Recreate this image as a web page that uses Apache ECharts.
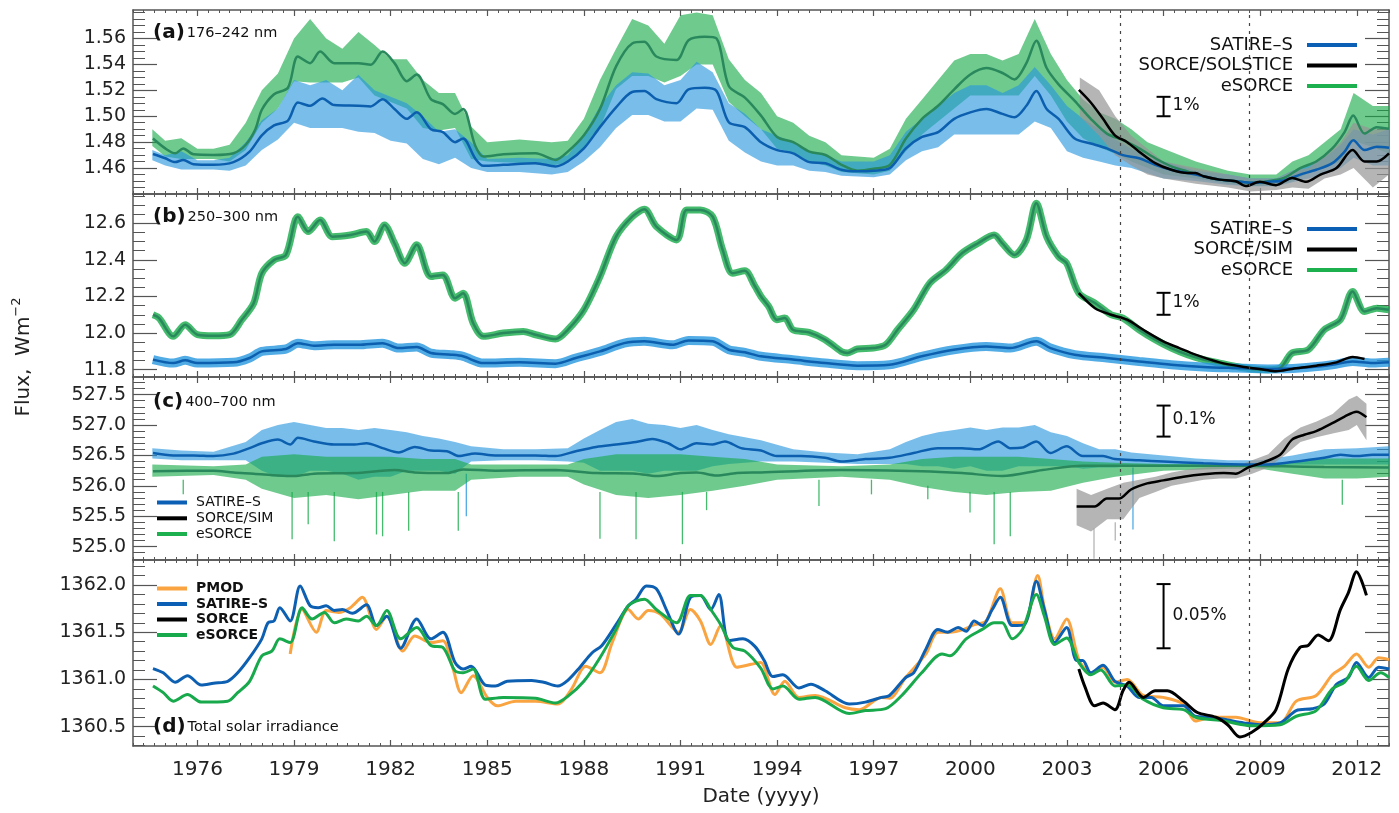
<!DOCTYPE html>
<html><head><meta charset="utf-8">
<script src="https://cdn.jsdelivr.net/npm/echarts@6/dist/echarts.min.js"></script>
<style>html,body{margin:0;padding:0;background:#fff}#c{width:1399px;height:813px}</style>
</head><body><div id="c"></div>
<script>
// ---------------- tick labels ----------------
const xTickYears = [1976,1979,1982,1985,1988,1991,1994,1997,2000,2003,2006,2009,2012];
const dashedYears = [2004.67, 2008.67];
const yTicksA = [1.46,1.48,1.50,1.52,1.54,1.56];
const yTicksB = [11.8,12.0,12.2,12.4,12.6];
const yTicksC = [525.0,525.5,526.0,526.5,527.0,527.5];
const yTicksD = [1360.5,1361.0,1361.5,1362.0];

// ---------------- panel (a) 176-242 nm ----------------
const aSatire = [[1974.62,1.4709],[1975.0,1.4676],[1975.31,1.4646],[1975.56,1.4663],[1975.88,1.463],[1976.5,1.4625],[1977.12,1.4646],[1977.62,1.4727],[1978.0,1.4853],[1978.38,1.4929],[1978.81,1.4967],[1979.12,1.5106],[1979.5,1.5081],[1979.88,1.5137],[1980.25,1.5086],[1981.0,1.5081],[1981.38,1.5076],[1981.75,1.5132],[1982.12,1.5056],[1982.5,1.498],[1982.81,1.503],[1983.25,1.490],[1983.62,1.4878],[1984.0,1.480],[1984.25,1.4828],[1984.62,1.4676],[1984.88,1.4618],[1985.5,1.4625],[1986.5,1.4638],[1987.12,1.4613],[1987.5,1.4651],[1988.0,1.4752],[1988.5,1.4916],[1989.0,1.5068],[1989.5,1.5187],[1989.88,1.5195],[1990.25,1.5132],[1990.88,1.5101],[1991.25,1.5208],[1991.75,1.522],[1992.12,1.5195],[1992.5,1.4954],[1993.0,1.4916],[1993.5,1.480],[1994.0,1.4739],[1994.5,1.4714],[1995.0,1.4646],[1995.5,1.4638],[1996.0,1.4587],[1996.5,1.4575],[1997.0,1.458],[1997.5,1.46],[1998.0,1.4752],[1998.5,1.484],[1999.0,1.4878],[1999.5,1.498],[2000.0,1.503],[2000.5,1.5056],[2001.0,1.5018],[2001.37,1.4992],[2001.74,1.5081],[2002.05,1.5195],[2002.37,1.5056],[2002.74,1.498],[2003.24,1.4828],[2003.74,1.479],[2004.24,1.4752],[2004.74,1.470],[2005.24,1.4676],[2005.74,1.4625],[2006.24,1.4587],[2006.74,1.4562],[2007.24,1.4537],[2007.74,1.4511],[2008.24,1.4499],[2008.74,1.4486],[2009.24,1.4494],[2009.74,1.4504],[2010.24,1.455],[2010.74,1.4587],[2011.24,1.4638],[2011.62,1.4727],[2011.89,1.4815],[2012.24,1.4739],[2012.62,1.4765],[2013.0,1.4757]];
const aEsorce = [[1974.62,1.4828],[1975.0,1.4752],[1975.31,1.4714],[1975.56,1.4752],[1975.88,1.4706],[1976.5,1.4701],[1977.12,1.4714],[1977.5,1.478],[1977.8,1.490],[1978.0,1.505],[1978.38,1.517],[1978.81,1.522],[1979.12,1.5461],[1979.5,1.541],[1979.81,1.5499],[1980.25,1.541],[1981.0,1.541],[1981.38,1.5397],[1981.75,1.5499],[1982.12,1.541],[1982.5,1.5271],[1982.81,1.5322],[1983.25,1.5132],[1983.62,1.5094],[1984.0,1.5018],[1984.25,1.5056],[1984.62,1.4777],[1984.88,1.4689],[1985.5,1.4706],[1986.5,1.4714],[1987.12,1.4663],[1987.5,1.4727],[1988.0,1.4853],[1988.5,1.5056],[1989.0,1.5385],[1989.5,1.5562],[1989.88,1.5575],[1990.25,1.5461],[1990.88,1.5435],[1991.25,1.5587],[1991.75,1.5613],[1992.12,1.56],[1992.5,1.5233],[1993.0,1.5144],[1993.5,1.5005],[1994.0,1.484],[1994.5,1.480],[1995.0,1.4727],[1995.5,1.4701],[1996.0,1.4625],[1996.5,1.458],[1997.0,1.4595],[1997.5,1.4625],[1998.0,1.4828],[1998.5,1.498],[1999.0,1.5081],[1999.5,1.5208],[2000.0,1.5322],[2000.5,1.5372],[2001.0,1.5334],[2001.37,1.5284],[2001.74,1.541],[2002.05,1.5582],[2002.37,1.5372],[2002.74,1.5246],[2003.24,1.5119],[2003.74,1.498],[2004.24,1.4866],[2004.74,1.4815],[2005.24,1.4752],[2005.74,1.4676],[2006.24,1.4613],[2006.74,1.4575],[2007.24,1.4537],[2007.74,1.4511],[2008.24,1.4499],[2008.74,1.4486],[2009.24,1.4499],[2009.74,1.4524],[2010.24,1.46],[2010.74,1.4651],[2011.24,1.4752],[2011.62,1.4878],[2011.89,1.5005],[2012.24,1.4866],[2012.62,1.4916],[2013.0,1.4904]];
const aSorce = [[2003.37,1.5203],[2003.74,1.5106],[2004.12,1.498],[2004.49,1.4853],[2004.87,1.480],[2005.24,1.4727],[2005.74,1.4638],[2006.24,1.4587],[2006.74,1.4562],[2006.99,1.4562],[2007.24,1.4537],[2007.74,1.4511],[2008.24,1.4499],[2008.55,1.4461],[2008.99,1.4494],[2009.49,1.4468],[2009.99,1.4524],[2010.43,1.4494],[2010.87,1.455],[2011.37,1.46],[2011.87,1.4739],[2012.24,1.4651],[2012.62,1.4651],[2013.0,1.4714]];
// daily-variability envelopes: [year, upper, lower]
const aSatireNoise = [[1974.6,1.474,1.466],[1975.0,1.470,1.462],[1975.5,1.473,1.459],[1976.0,1.466,1.459],[1976.5,1.466,1.459],[1977.0,1.468,1.458],[1977.5,1.480,1.462],[1978.0,1.497,1.474],[1978.5,1.506,1.482],[1979.0,1.528,1.495],[1979.5,1.524,1.491],[1980.0,1.528,1.491],[1980.5,1.520,1.491],[1981.0,1.532,1.488],[1981.5,1.520,1.487],[1982.0,1.515,1.481],[1982.5,1.510,1.479],[1983.0,1.500,1.467],[1983.5,1.488,1.463],[1984.0,1.490,1.468],[1984.5,1.480,1.460],[1985.0,1.467,1.457],[1986.0,1.468,1.457],[1987.0,1.467,1.455],[1987.5,1.470,1.457],[1988.0,1.486,1.465],[1988.5,1.508,1.476],[1989.0,1.524,1.491],[1989.5,1.534,1.501],[1990.0,1.533,1.501],[1990.5,1.524,1.496],[1991.0,1.528,1.496],[1991.5,1.542,1.506],[1992.0,1.534,1.505],[1992.5,1.510,1.481],[1993.0,1.502,1.472],[1993.5,1.490,1.465],[1994.0,1.485,1.462],[1994.5,1.480,1.462],[1995.0,1.472,1.458],[1995.5,1.470,1.457],[1996.0,1.465,1.454],[1997.0,1.465,1.453],[1997.5,1.470,1.455],[1998.0,1.488,1.466],[1998.5,1.498,1.473],[1999.0,1.508,1.476],[1999.5,1.518,1.486],[2000.0,1.524,1.486],[2000.5,1.524,1.486],[2001.0,1.518,1.486],[2001.5,1.524,1.486],[2002.0,1.538,1.496],[2002.5,1.524,1.491],[2003.0,1.508,1.473],[2003.5,1.498,1.468],[2004.0,1.490,1.465],[2004.5,1.482,1.462],[2005.0,1.475,1.460],[2005.5,1.468,1.456],[2006.0,1.465,1.452],[2007.0,1.458,1.450],[2008.0,1.455,1.447],[2008.7,1.452,1.446],[2009.5,1.452,1.446],[2010.0,1.458,1.449],[2010.5,1.462,1.452],[2011.0,1.468,1.455],[2011.5,1.478,1.460],[2011.9,1.490,1.468],[2012.5,1.486,1.462],[2013.0,1.490,1.462]];
const aEsorceNoise = [[1974.6,1.490,1.477],[1975.0,1.481,1.469],[1975.5,1.483,1.467],[1976.0,1.475,1.467],[1976.5,1.475,1.467],[1977.0,1.478,1.465],[1977.5,1.495,1.474],[1978.0,1.520,1.495],[1978.5,1.533,1.506],[1979.0,1.560,1.527],[1979.5,1.575,1.526],[1980.0,1.560,1.526],[1980.5,1.552,1.526],[1981.0,1.565,1.530],[1981.5,1.555,1.516],[1982.0,1.544,1.511],[1982.5,1.544,1.506],[1983.0,1.528,1.491],[1983.5,1.518,1.489],[1984.0,1.518,1.491],[1984.5,1.492,1.467],[1985.0,1.480,1.465],[1986.0,1.482,1.464],[1987.0,1.480,1.462],[1987.5,1.481,1.464],[1988.0,1.498,1.476],[1988.5,1.528,1.491],[1989.0,1.552,1.521],[1989.5,1.575,1.531],[1990.0,1.570,1.531],[1990.5,1.556,1.526],[1991.0,1.578,1.531],[1991.5,1.580,1.540],[1992.0,1.578,1.540],[1992.5,1.544,1.511],[1993.0,1.528,1.500],[1993.5,1.518,1.490],[1994.0,1.500,1.475],[1994.5,1.495,1.472],[1995.0,1.485,1.465],[1995.5,1.480,1.462],[1996.0,1.470,1.457],[1997.0,1.468,1.455],[1997.5,1.475,1.458],[1998.0,1.498,1.473],[1998.5,1.513,1.486],[1999.0,1.528,1.496],[1999.5,1.543,1.506],[2000.0,1.548,1.516],[2000.5,1.548,1.516],[2001.0,1.543,1.516],[2001.5,1.548,1.516],[2002.0,1.575,1.531],[2002.5,1.548,1.516],[2003.0,1.528,1.496],[2003.5,1.513,1.483],[2004.0,1.503,1.476],[2004.5,1.498,1.471],[2005.0,1.490,1.465],[2005.5,1.480,1.460],[2006.0,1.475,1.455],[2007.0,1.465,1.452],[2008.0,1.458,1.448],[2008.7,1.455,1.446],[2009.5,1.455,1.447],[2010.0,1.465,1.450],[2010.5,1.470,1.456],[2011.0,1.480,1.460],[2011.5,1.490,1.465],[2011.9,1.518,1.481],[2012.5,1.508,1.476],[2013.0,1.508,1.471]];
const aSorceNoise = [[2003.4,1.530,1.500],[2004.0,1.520,1.485],[2004.5,1.500,1.470],[2005.0,1.485,1.462],[2005.5,1.475,1.455],[2006.0,1.465,1.452],[2007.0,1.460,1.448],[2008.0,1.455,1.445],[2008.7,1.452,1.442],[2009.5,1.452,1.443],[2010.0,1.458,1.445],[2010.5,1.460,1.444],[2011.0,1.470,1.452],[2011.5,1.480,1.455],[2011.9,1.495,1.460],[2012.5,1.490,1.445],[2013.0,1.490,1.455]];

// ---------------- panel (b) 250-300 nm ----------------
const bSatire = [[1974.62,11.855],[1975.25,11.836],[1975.62,11.851],[1976.0,11.836],[1977.12,11.84],[1977.62,11.864],[1978.0,11.90],[1978.75,11.913],[1979.12,11.945],[1979.62,11.931],[1980.25,11.936],[1981.0,11.936],[1981.75,11.945],[1982.25,11.918],[1982.81,11.924],[1983.25,11.891],[1983.88,11.882],[1984.25,11.873],[1984.88,11.836],[1986.0,11.84],[1987.12,11.833],[1987.75,11.864],[1988.5,11.90],[1989.25,11.945],[1989.88,11.955],[1990.75,11.936],[1991.25,11.96],[1992.0,11.955],[1992.5,11.909],[1993.0,11.895],[1993.5,11.873],[1994.49,11.855],[1995.49,11.836],[1996.49,11.822],[1997.49,11.827],[1998.49,11.873],[1999.49,11.909],[2000.49,11.927],[2001.24,11.918],[2002.05,11.955],[2002.49,11.918],[2003.24,11.882],[2004.24,11.864],[2005.24,11.845],[2006.24,11.827],[2007.24,11.815],[2008.24,11.809],[2009.24,11.804],[2010.24,11.809],[2011.24,11.827],[2011.87,11.845],[2012.49,11.836],[2013.0,11.84]];
const bEsorce = [[1974.62,12.10],[1974.81,12.082],[1975.25,11.982],[1975.62,12.045],[1976.0,11.991],[1976.5,11.985],[1977.0,11.991],[1977.38,12.073],[1977.75,12.164],[1978.0,12.327],[1978.38,12.40],[1978.75,12.427],[1979.12,12.636],[1979.44,12.555],[1979.81,12.618],[1980.19,12.527],[1980.75,12.536],[1981.25,12.555],[1981.5,12.50],[1981.81,12.591],[1982.12,12.491],[1982.44,12.382],[1982.81,12.482],[1983.25,12.309],[1983.62,12.318],[1984.0,12.191],[1984.25,12.218],[1984.56,12.055],[1984.88,11.982],[1985.5,12.0],[1986.12,12.009],[1986.5,11.991],[1987.12,11.967],[1987.5,12.018],[1988.0,12.127],[1988.5,12.309],[1989.0,12.527],[1989.5,12.636],[1989.88,12.676],[1990.25,12.582],[1990.88,12.509],[1991.19,12.673],[1991.62,12.673],[1992.0,12.636],[1992.31,12.455],[1992.62,12.327],[1993.0,12.34],[1993.3,12.26],[1993.5,12.2],[1993.74,12.145],[1993.99,12.073],[1994.24,12.082],[1994.49,12.018],[1994.99,12.004],[1995.49,11.964],[1995.99,11.90],[1996.18,11.891],[1996.49,11.913],[1996.99,11.918],[1997.37,11.936],[1997.74,12.018],[1998.24,12.127],[1998.74,12.273],[1999.24,12.345],[1999.74,12.436],[2000.24,12.491],[2000.74,12.536],[2000.99,12.491],[2001.37,12.427],[2001.74,12.509],[2002.05,12.709],[2002.37,12.527],[2002.74,12.418],[2002.99,12.382],[2003.37,12.218],[2003.87,12.164],[2004.37,12.10],[2004.74,12.082],[2005.24,12.018],[2005.74,11.964],[2006.24,11.918],[2006.74,11.882],[2007.24,11.855],[2007.74,11.836],[2008.24,11.818],[2008.74,11.804],[2009.24,11.80],[2009.62,11.809],[2009.99,11.891],[2010.49,11.909],[2010.99,12.018],[2011.49,12.073],[2011.87,12.227],[2012.24,12.118],[2012.62,12.136],[2013.0,12.127]];
const bSorce = [[2003.37,12.218],[2003.87,12.136],[2004.37,12.10],[2004.87,12.073],[2005.37,12.018],[2005.99,11.955],[2006.49,11.918],[2006.99,11.882],[2007.74,11.84],[2008.49,11.815],[2009.12,11.80],[2009.49,11.791],[2009.99,11.804],[2010.74,11.822],[2011.37,11.84],[2011.87,11.869],[2012.24,11.858]];

// ---------------- panel (c) 400-700 nm ----------------
const cSatire = [[1974.62,526.54],[1975.25,526.50],[1975.88,526.50],[1976.5,526.49],[1977.12,526.53],[1977.62,526.62],[1978.0,526.70],[1978.5,526.76],[1978.88,526.68],[1979.12,526.79],[1979.62,526.73],[1980.25,526.68],[1980.88,526.68],[1981.25,526.70],[1981.75,526.62],[1982.25,526.55],[1982.75,526.64],[1983.25,526.58],[1983.75,526.57],[1984.12,526.49],[1984.62,526.53],[1985.25,526.50],[1986.5,526.50],[1987.12,526.49],[1987.75,526.57],[1988.38,526.64],[1989.0,526.68],[1989.62,526.72],[1990.12,526.77],[1990.62,526.70],[1991.0,526.60],[1991.5,526.70],[1992.0,526.68],[1992.38,526.73],[1992.88,526.62],[1993.5,526.58],[1993.99,526.49],[1994.74,526.49],[1995.49,526.46],[1995.99,526.40],[1996.74,526.44],[1997.49,526.46],[1998.24,526.54],[1998.99,526.62],[1999.74,526.62],[2000.24,526.60],[2000.87,526.73],[2001.24,526.62],[2001.62,526.63],[2002.05,526.73],[2002.49,526.54],[2002.99,526.65],[2003.49,526.49],[2004.12,526.49],[2004.49,526.44],[2005.24,526.42],[2005.99,526.40],[2007.24,526.37],[2008.49,526.35],[2009.24,526.35],[2009.99,526.39],[2010.99,526.46],[2011.49,526.51],[2011.99,526.49],[2012.49,526.51],[2013.0,526.51]];
const cEsorce = [[1974.62,526.24],[1976.5,526.25],[1977.12,526.22],[1977.75,526.20],[1978.5,526.17],[1979.0,526.16],[1979.62,526.20],[1980.88,526.21],[1982.12,526.26],[1982.75,526.22],[1983.75,526.21],[1984.25,526.27],[1985.25,526.25],[1987.12,526.26],[1988.38,526.21],[1989.62,526.20],[1990.25,526.16],[1991.0,526.21],[1991.5,526.22],[1992.12,526.17],[1992.75,526.21],[1993.5,526.22],[1995.99,526.26],[1998.49,526.24],[1999.74,526.21],[2000.99,526.16],[2002.24,526.26],[2003.49,526.33],[2004.74,526.33],[2006.0,526.33],[2008.5,526.33],[2009.74,526.32],[2010.99,526.31],[2013.0,526.30]];
const cSorce = [[2003.3,525.66],[2003.86,525.66],[2004.24,525.79],[2004.62,525.79],[2004.99,525.94],[2005.49,526.04],[2005.99,526.09],[2006.62,526.15],[2007.24,526.19],[2007.87,526.21],[2008.24,526.20],[2008.62,526.30],[2009.12,526.39],[2009.62,526.51],[2009.99,526.76],[2010.37,526.84],[2010.74,526.90],[2011.24,527.03],[2011.62,527.14],[2011.99,527.22],[2012.3,527.13]];
const cSatireNoise = [[1974.6,526.62,526.45],[1975.5,526.58,526.42],[1976.5,526.56,526.42],[1977.5,526.72,526.42],[1978.0,526.92,526.25],[1978.5,527.00,526.15],[1979.0,527.05,526.15],[1979.5,527.00,526.25],[1980.0,526.95,526.25],[1980.5,526.95,526.20],[1981.0,526.92,526.10],[1981.5,526.95,526.15],[1982.0,526.92,526.15],[1982.5,526.88,526.25],[1983.0,526.82,526.25],[1983.5,526.78,526.25],[1984.0,526.72,526.20],[1984.5,526.65,526.40],[1985.5,526.60,526.42],[1986.5,526.60,526.42],[1987.5,526.62,526.40],[1988.0,526.78,526.38],[1988.5,526.92,526.25],[1989.0,527.05,526.25],[1989.5,527.10,526.25],[1990.0,527.02,526.20],[1990.5,527.00,526.25],[1991.0,526.95,526.25],[1991.5,527.00,526.25],[1992.0,526.92,526.32],[1992.5,526.85,526.36],[1993.5,526.75,526.40],[1994.5,526.60,526.40],[1995.5,526.55,526.38],[1996.5,526.52,526.36],[1997.5,526.60,526.36],[1998.0,526.72,526.36],[1998.5,526.82,526.32],[1999.0,526.88,526.32],[1999.5,526.92,526.28],[2000.0,526.96,526.32],[2000.5,526.92,526.25],[2001.0,526.96,526.25],[2001.5,526.96,526.32],[2002.0,527.00,526.32],[2002.5,526.88,526.32],[2003.0,526.82,526.32],[2003.5,526.70,526.28],[2004.0,526.60,526.30],[2004.5,526.60,526.30],[2005.0,526.55,526.32],[2006.0,526.50,526.33],[2007.0,526.45,526.33],[2008.0,526.42,526.32],[2009.0,526.42,526.32],[2010.0,526.50,526.35],[2011.0,526.60,526.35],[2012.0,526.62,526.35],[2013.0,526.65,526.35]];
const cEsorceNoise = [[1974.6,526.35,526.15],[1976.5,526.32,526.18],[1977.5,526.35,526.10],[1978.0,526.48,525.95],[1979.0,526.52,525.80],[1980.0,526.48,525.85],[1981.0,526.48,525.78],[1982.0,526.48,525.85],[1983.0,526.44,525.92],[1984.0,526.44,525.92],[1984.5,526.35,526.10],[1986.0,526.35,526.15],[1987.5,526.35,526.15],[1988.0,526.44,526.02],[1989.0,526.52,525.85],[1990.0,526.52,525.80],[1991.0,526.52,525.85],[1992.0,526.48,525.92],[1993.0,526.44,526.00],[1994.0,526.35,526.10],[1996.0,526.32,526.15],[1997.5,526.35,526.10],[1998.5,526.44,525.98],[1999.5,526.48,525.90],[2000.5,526.48,525.85],[2001.5,526.48,525.90],[2002.5,526.44,525.92],[2003.5,526.40,526.05],[2004.5,526.38,526.15],[2006.0,526.36,526.25],[2008.0,526.35,526.28],[2009.0,526.35,526.28],[2010.0,526.40,526.20],[2011.0,526.45,526.12],[2012.0,526.45,526.12],[2013.0,526.45,526.15]];
const cSorceNoise = [[2003.3,525.95,525.35],[2003.75,525.85,525.25],[2004.25,525.95,525.45],[2004.75,526.05,525.45],[2005.25,526.10,525.80],[2005.75,526.15,525.90],[2006.25,526.22,526.00],[2006.75,526.27,526.05],[2007.25,526.30,526.10],[2007.75,526.32,526.12],[2008.25,526.32,526.12],[2008.75,526.42,526.20],[2009.25,526.52,526.30],[2009.75,526.78,526.50],[2010.25,526.96,526.72],[2010.75,527.06,526.80],[2011.25,527.18,526.86],[2011.75,527.42,526.92],[2012.0,527.48,527.00],[2012.3,527.35,526.75]];
// isolated dips: [year, from, to]
const cEsorceSpikes = [[1975.56,526.1,525.86],[1978.94,525.9,525.12],[1979.44,525.9,525.37],[1980.25,525.9,525.09],[1981.56,525.9,525.2],[1981.75,525.9,525.17],[1982.56,525.9,525.26],[1984.1,525.9,525.26],[1988.5,525.9,525.13],[1989.62,525.9,525.12],[1991.06,525.9,525.04],[1991.81,525.9,525.6],[1995.3,526.1,525.67],[1996.93,526.1,525.86],[1998.68,526.0,525.78],[1999.99,525.9,525.56],[2000.74,525.9,525.04],[2001.24,525.9,525.17],[2011.55,526.1,525.69]];
const cSatireSpikes = [[1984.35,526.2,525.5],[2005.05,526.3,525.28]];
const cSorceSpikes = [[2003.84,525.3,524.8],[2004.5,525.4,525.1]];

// ---------------- panel (d) total solar irradiance ----------------
const dSatire = [[1974.62,1361.115],[1974.94,1361.07],[1975.31,1360.97],[1975.69,1361.04],[1976.12,1360.94],[1976.5,1360.96],[1976.94,1360.98],[1977.25,1361.07],[1977.62,1361.23],[1978.0,1361.43],[1978.19,1361.60],[1978.38,1361.62],[1978.56,1361.76],[1978.88,1361.62],[1979.19,1361.99],[1979.5,1361.78],[1979.75,1361.76],[1980.0,1361.78],[1980.25,1361.73],[1980.5,1361.74],[1980.81,1361.70],[1981.25,1361.79],[1981.56,1361.57],[1981.88,1361.67],[1982.31,1361.33],[1982.81,1361.64],[1983.25,1361.43],[1983.62,1361.50],[1984.0,1361.18],[1984.25,1361.11],[1984.5,1361.14],[1984.94,1360.94],[1985.25,1360.93],[1985.62,1360.98],[1986.38,1360.99],[1986.75,1360.97],[1987.19,1360.93],[1987.5,1360.99],[1987.88,1361.13],[1988.25,1361.28],[1988.56,1361.36],[1989.0,1361.58],[1989.38,1361.78],[1989.62,1361.85],[1989.94,1361.99],[1990.25,1361.96],[1990.56,1361.74],[1990.94,1361.48],[1991.31,1361.87],[1991.62,1361.89],[1991.94,1361.74],[1992.19,1361.90],[1992.5,1361.41],[1992.94,1361.43],[1993.31,1361.35],[1993.6,1361.2],[1993.87,1361.03],[1994.18,1361.05],[1994.68,1360.91],[1995.05,1360.95],[1995.49,1360.88],[1996.24,1360.74],[1996.74,1360.76],[1997.24,1360.81],[1997.49,1360.83],[1997.99,1361.02],[1998.24,1361.07],[1998.62,1361.32],[1998.99,1361.53],[1999.3,1361.50],[1999.62,1361.55],[1999.87,1361.51],[2000.12,1361.62],[2000.37,1361.57],[2000.68,1361.74],[2000.93,1361.87],[2001.3,1361.57],[2001.68,1361.58],[2002.05,1362.04],[2002.3,1361.74],[2002.62,1361.39],[2002.99,1361.55],[2003.3,1361.20],[2003.49,1361.20],[2003.74,1361.07],[2004.12,1361.15],[2004.49,1360.98],[2004.87,1360.93],[2005.24,1360.81],[2005.62,1360.81],[2005.99,1360.72],[2006.62,1360.72],[2006.99,1360.61],[2007.49,1360.60],[2007.99,1360.57],[2008.49,1360.54],[2008.99,1360.52],[2009.62,1360.54],[2010.12,1360.67],[2010.62,1360.69],[2010.99,1360.74],[2011.37,1360.95],[2011.74,1361.02],[2011.99,1361.18],[2012.37,1361.02],[2012.68,1361.13],[2013.0,1361.11]];
const dEsorce = [[1974.62,1360.93],[1974.94,1360.86],[1975.25,1360.77],[1975.69,1360.84],[1976.12,1360.76],[1976.94,1360.77],[1977.25,1360.86],[1977.62,1360.98],[1978.0,1361.25],[1978.31,1361.30],[1978.56,1361.43],[1978.88,1361.39],[1979.25,1361.76],[1979.56,1361.64],[1979.94,1361.71],[1980.25,1361.60],[1980.62,1361.64],[1981.0,1361.62],[1981.25,1361.67],[1981.56,1361.57],[1981.88,1361.73],[1982.31,1361.43],[1982.81,1361.55],[1983.25,1361.36],[1983.62,1361.34],[1984.0,1361.09],[1984.25,1361.07],[1984.56,1361.11],[1984.94,1360.79],[1985.5,1360.81],[1986.5,1360.80],[1987.12,1360.75],[1987.5,1360.82],[1988.0,1360.98],[1988.5,1361.23],[1989.0,1361.53],[1989.38,1361.78],[1989.88,1361.85],[1990.25,1361.74],[1990.88,1361.60],[1991.31,1361.89],[1991.62,1361.89],[1991.94,1361.74],[1992.25,1361.58],[1992.62,1361.34],[1993.0,1361.30],[1993.49,1361.12],[1993.87,1360.90],[1994.18,1360.93],[1994.68,1360.79],[1995.18,1360.81],[1996.24,1360.64],[1996.74,1360.67],[1997.37,1360.69],[1997.87,1360.83],[1998.49,1361.07],[1999.12,1361.27],[1999.37,1361.25],[1999.87,1361.43],[2000.37,1361.53],[2000.74,1361.60],[2000.99,1361.60],[2001.3,1361.43],[2001.62,1361.53],[2002.05,1361.90],[2002.3,1361.67],[2002.62,1361.37],[2002.99,1361.44],[2003.37,1361.18],[2003.74,1361.05],[2004.05,1361.10],[2004.49,1360.93],[2004.87,1360.94],[2005.37,1360.79],[2005.99,1360.70],[2006.62,1360.68],[2006.99,1360.60],[2007.87,1360.56],[2008.74,1360.51],[2009.62,1360.52],[2010.12,1360.61],[2010.74,1360.67],[2011.24,1360.90],[2011.62,1360.97],[2011.99,1361.14],[2012.37,1360.99],[2012.74,1361.07],[2013.0,1361.02]];
const dPmod = [[1978.88,1361.27],[1979.25,1361.74],[1979.69,1361.50],[1980.0,1361.73],[1980.38,1361.71],[1980.75,1361.76],[1981.12,1361.87],[1981.56,1361.53],[1981.88,1361.67],[1982.38,1361.30],[1982.75,1361.46],[1983.25,1361.39],[1983.62,1361.41],[1983.94,1361.11],[1984.19,1360.86],[1984.56,1361.04],[1985.0,1360.81],[1985.31,1360.72],[1985.88,1360.77],[1986.5,1360.77],[1987.19,1360.74],[1987.62,1360.90],[1988.06,1361.14],[1988.5,1361.07],[1988.88,1361.39],[1989.38,1361.74],[1989.69,1361.64],[1990.0,1361.73],[1990.38,1361.69],[1990.94,1361.50],[1991.31,1361.74],[1991.62,1361.62],[1991.94,1361.37],[1992.25,1361.57],[1992.75,1361.13],[1993.19,1361.16],[1993.49,1361.18],[1993.93,1360.84],[1994.24,1360.98],[1994.68,1360.81],[1995.18,1360.83],[1996.12,1360.70],[1996.55,1360.68],[1997.24,1360.81],[1997.49,1360.80],[1997.99,1361.02],[1998.62,1361.27],[1998.99,1361.50],[1999.37,1361.50],[1999.8,1361.53],[2000.12,1361.58],[2000.49,1361.62],[2000.93,1361.96],[2001.3,1361.60],[2001.68,1361.60],[2002.09,1362.10],[2002.3,1361.76],[2002.62,1361.43],[2002.99,1361.64],[2003.37,1361.21],[2003.74,1361.07],[2004.12,1361.13],[2004.49,1360.97],[2004.87,1361.00],[2005.37,1360.83],[2005.99,1360.81],[2006.62,1360.74],[2006.99,1360.56],[2007.49,1360.60],[2008.24,1360.60],[2008.99,1360.54],[2009.62,1360.54],[2010.12,1360.77],[2010.74,1360.83],[2011.24,1361.05],[2011.62,1361.14],[2011.99,1361.27],[2012.37,1361.13],[2012.68,1361.23],[2013.0,1361.21]];
const dSorce = [[2003.37,1361.11],[2003.55,1360.93],[2003.86,1360.72],[2004.12,1360.75],[2004.49,1360.68],[2004.74,1360.88],[2004.93,1360.97],[2005.37,1360.81],[2005.74,1360.88],[2006.12,1360.88],[2006.62,1360.77],[2007.05,1360.65],[2007.62,1360.60],[2007.99,1360.52],[2008.37,1360.39],[2008.74,1360.44],[2009.12,1360.54],[2009.49,1360.68],[2009.87,1361.11],[2010.24,1361.34],[2010.49,1361.36],[2010.8,1361.47],[2011.12,1361.41],[2011.49,1361.74],[2011.74,1361.92],[2011.99,1362.14],[2012.3,1361.89]];

// scale bars: [year, lower, upper, label]
const scaleBars = [[2006.0,1.500,1.515,'1%'],[2006.0,12.10,12.22,'1%'],[2006.0,526.81,527.32,'0.1%'],[2006.0,1361.33,1362.01,'0.05%']];

// ---------------- layout / style ----------------
const FONT = 'DejaVu Sans';
const C = {
  satLine:'#0b5fae', satNoise:'rgba(38,150,222,0.62)',
  esoLine:'#29885c', esoNoise:'rgba(22,170,72,0.62)',
  satThick:'rgba(38,150,222,0.8)', esoThick:'rgba(22,170,72,0.8)',
  grayNoise:'rgba(150,150,150,0.7)', black:'#000',
  pmod:'#f9a441', satD:'#0d5fb2', esoD:'#17a94b',
  legBlue:'#0b5fb4', legGreen:'#1db04f', axis:'#555'
};
const panels = [
  {top:10,  height:184, min:1.44,   max:1.582,   major:yTicksA, minorStep:0.005, dec:2},
  {top:194, height:183, min:11.76,  max:12.76,   major:yTicksB, minorStep:0.05,  dec:1},
  {top:377, height:183, min:524.78, max:527.79,  major:yTicksC, minorStep:0.1,   dec:1},
  {top:560, height:186, min:1360.295,max:1362.265,major:yTicksD, minorStep:0.1,  dec:1}
];
const X_MIN = 1974, X_MAX = 2013;
const minorX = [];
for (let k = 0; k <= 117; k++) minorX.push(+(X_MIN + k/3).toFixed(4));

const grids = [], xAxes = [], yAxes = [];
panels.forEach((p, i) => {
  grids.push({left:133, right:10, top:p.top, height:p.height});
  const minorY = [];
  const s0 = Math.ceil(p.min / p.minorStep - 1e-6);
  for (let k = s0; k * p.minorStep <= p.max + 1e-9; k++) minorY.push(+(k * p.minorStep).toFixed(4));
  ['bottom','top'].forEach(pos => {
    xAxes.push({gridIndex:i, type:'value', min:X_MIN, max:X_MAX, position:pos,
      axisLine:{show:true, onZero:false, lineStyle:{color:C.axis, width:1.5}},
      axisTick:{show:true, inside:true, length:6, customValues:xTickYears, lineStyle:{color:C.axis, width:1.2}},
      axisLabel:{show:(i===3 && pos==='bottom'), customValues:xTickYears, formatter:v => String(Math.round(v)),
        fontFamily:FONT, fontSize:20, color:'#222', margin:14},
      splitLine:{show:false}});
    xAxes.push({gridIndex:i, type:'value', min:X_MIN, max:X_MAX, position:pos,
      axisLine:{show:false}, axisLabel:{show:false}, splitLine:{show:false},
      axisTick:{show:true, inside:true, length:3, customValues:minorX, lineStyle:{color:C.axis, width:1}}});
  });
  ['left','right'].forEach(pos => {
    yAxes.push({gridIndex:i, type:'value', min:p.min, max:p.max, position:pos,
      axisLine:{show:true, onZero:false, lineStyle:{color:C.axis, width:1.5}},
      axisTick:{show:true, inside:true, length:24, customValues:p.major, lineStyle:{color:C.axis, width:1.2}},
      axisLabel:{show:pos==='left', customValues:p.major, formatter:v => Number(v).toFixed(p.dec),
        fontFamily:FONT, fontSize:19, color:'#222', margin:7},
      splitLine:{show:false}});
    yAxes.push({gridIndex:i, type:'value', min:p.min, max:p.max, position:pos,
      axisLine:{show:false}, axisLabel:{show:false}, splitLine:{show:false},
      axisTick:{show:true, inside:true, length:12, customValues:minorY, lineStyle:{color:C.axis, width:1}}});
  });
});

function lineS(gi, data, color, width, extra) {
  return Object.assign({type:'line', xAxisIndex:gi*4, yAxisIndex:gi*4, data:data, showSymbol:false,
    smooth:0.3, silent:true, clip:true, lineStyle:{color:color, width:width}, z:3}, extra || {});
}
function bandS(gi, data, color) {
  return {type:'custom', xAxisIndex:gi*4, yAxisIndex:gi*4, data:data, silent:true, clip:true, z:2,
    renderItem:function(params, api){
      if (params.dataIndex !== 0) return null;
      const pts = [];
      for (let k = 0; k < data.length; k++) pts.push(api.coord([data[k][0], data[k][1]]));
      for (let k = data.length - 1; k >= 0; k--) pts.push(api.coord([data[k][0], data[k][2]]));
      return {type:'polygon', shape:{points:pts}, style:{fill:color}};
    }};
}
function spikeS(gi, data, color) {
  return {type:'custom', xAxisIndex:gi*4, yAxisIndex:gi*4, data:data, silent:true, clip:true, z:2,
    renderItem:function(params, api){
      const a = api.coord([api.value(0), api.value(1)]);
      const b = api.coord([api.value(0), api.value(2)]);
      return {type:'line', shape:{x1:a[0], y1:a[1], x2:b[0], y2:b[1]}, style:{stroke:color, lineWidth:1.3}};
    }};
}
function scaleS(gi) {
  const d = [scaleBars[gi]];
  return {type:'custom', xAxisIndex:gi*4, yAxisIndex:gi*4, data:d, silent:true, z:5,
    renderItem:function(params, api){
      const r = d[0];
      const lo = api.coord([r[0], r[1]]), hi = api.coord([r[0], r[2]]);
      return {type:'group', children:[
        {type:'line', shape:{x1:lo[0], y1:lo[1], x2:hi[0], y2:hi[1]}, style:{stroke:'#000', lineWidth:2}},
        {type:'line', shape:{x1:lo[0]-7, y1:lo[1], x2:lo[0]+7, y2:lo[1]}, style:{stroke:'#000', lineWidth:2}},
        {type:'line', shape:{x1:hi[0]-7, y1:hi[1], x2:hi[0]+7, y2:hi[1]}, style:{stroke:'#000', lineWidth:2}},
        {type:'text', x:lo[0]+9, y:(lo[1]+hi[1])/2 - 1, style:{text:r[3], font:'17px "DejaVu Sans"', fill:'#111', verticalAlign:'middle', align:'left'}}
      ]};
    }};
}
const dashMark = {silent:true, symbol:['none','none'], label:{show:false},
  lineStyle:{type:[3,5], color:'#444', width:1.2}, data:dashedYears.map(v => ({xAxis:v}))};

const series = [
  // (a)
  bandS(0, aEsorceNoise, C.esoNoise),
  bandS(0, aSatireNoise, C.satNoise),
  bandS(0, aSorceNoise, C.grayNoise),
  lineS(0, aEsorce, C.esoLine, 2.5, {markLine:dashMark}),
  lineS(0, aSatire, C.satLine, 2.5),
  lineS(0, aSorce, C.black, 2.5),
  scaleS(0),
  // (b)
  lineS(1, bEsorce, C.esoThick, 7, {z:2, markLine:dashMark}),
  lineS(1, bSatire, C.satThick, 9, {z:2}),
  lineS(1, bEsorce, C.esoLine, 2.5),
  lineS(1, bSatire, C.satLine, 2.5),
  lineS(1, bSorce, C.black, 2.5),
  scaleS(1),
  // (c)
  bandS(2, cSatireNoise, C.satNoise),
  spikeS(2, cSatireSpikes, C.satThick),
  bandS(2, cEsorceNoise, C.esoNoise),
  spikeS(2, cEsorceSpikes, C.esoThick),
  bandS(2, cSorceNoise, C.grayNoise),
  spikeS(2, cSorceSpikes, C.grayNoise),
  lineS(2, cEsorce, C.esoLine, 2.5, {markLine:dashMark}),
  lineS(2, cSatire, C.satLine, 2.5),
  lineS(2, cSorce, C.black, 2.5),
  scaleS(2),
  // (d)
  lineS(3, dPmod, C.pmod, 3, {markLine:dashMark}),
  lineS(3, dSatire, C.satD, 3),
  lineS(3, dEsorce, C.esoD, 3),
  lineS(3, dSorce, C.black, 3),
  scaleS(3)
];

// ---------------- annotations ----------------
const graphic = [];
function panelLabel(x, y, tag, sub) {
  graphic.push({type:'text', x:x, y:y, z:10, style:{text:'{t|' + tag + '}{s|' + sub + '}', verticalAlign:'middle', align:'left',
    rich:{t:{fontFamily:FONT, fontSize:20, fontWeight:'bold', fill:'#111'}, s:{fontFamily:FONT, fontSize:14.5, fill:'#111', padding:[0,0,0,2]}}}});
}
panelLabel(153, 33, '(a)', '176\u2013242 nm');
panelLabel(153, 217, '(b)', '250\u2013300 nm');
panelLabel(153, 402, '(c)', '400\u2013700 nm');
panelLabel(153, 727, '(d)', 'Total solar irradiance');

function legendRight(textX, lineX1, lineX2, ys, items, size) {
  items.forEach((it, k) => {
    graphic.push({type:'text', x:textX, y:ys[k], z:10, style:{text:it[0], font:size + 'px "DejaVu Sans"', fill:'#111', align:'right', verticalAlign:'middle'}});
    graphic.push({type:'line', z:10, shape:{x1:lineX1, y1:ys[k], x2:lineX2, y2:ys[k]}, style:{stroke:it[1], lineWidth:4}});
  });
}
function legendLeft(lineX1, lineX2, textX, ys, items, size, weight) {
  items.forEach((it, k) => {
    graphic.push({type:'line', z:10, shape:{x1:lineX1, y1:ys[k], x2:lineX2, y2:ys[k]}, style:{stroke:it[1], lineWidth:4}});
    graphic.push({type:'text', x:textX, y:ys[k], z:10, style:{text:it[0], font:(weight||'normal') + ' ' + size + 'px "DejaVu Sans"', fill:'#111', align:'left', verticalAlign:'middle'}});
  });
}
legendRight(1293, 1307, 1357, [45, 65.5, 86], [['SATIRE\u2013S', C.legBlue], ['SORCE/SOLSTICE', C.black], ['eSORCE', C.legGreen]], 18);
legendRight(1293, 1307, 1357, [229, 249.5, 270], [['SATIRE\u2013S', C.legBlue], ['SORCE/SIM', C.black], ['eSORCE', C.legGreen]], 18);
legendLeft(157, 187, 196, [502.5, 518.3, 534], [['SATIRE\u2013S', C.legBlue], ['SORCE/SIM', C.black], ['eSORCE', C.legGreen]], 14);
legendLeft(157, 187, 196, [588.5, 604, 619.5, 635], [['PMOD', C.pmod], ['SATIRE\u2013S', C.legBlue], ['SORCE', C.black], ['eSORCE', C.esoD]], 14, 'bold');

graphic.push({type:'text', x:24, y:357, rotation:Math.PI/2, z:10,
  style:{text:'{a|Flux,  Wm}{b|\u22122}', align:'center', verticalAlign:'middle',
    rich:{a:{fontFamily:FONT, fontSize:20, lineHeight:28, fill:'#222'}, b:{fontFamily:FONT, fontSize:13, lineHeight:13, verticalAlign:'top', fill:'#222'}}}});
graphic.push({type:'text', x:761, y:797, z:10,
  style:{text:'Date (yyyy)', font:'20px "DejaVu Sans"', fill:'#222', align:'center', verticalAlign:'middle'}});

const chart = echarts.init(document.getElementById('c'), null, {renderer:'canvas'});
chart.setOption({
  animation:false, backgroundColor:'#fff',
  textStyle:{fontFamily:FONT},
  grid:grids, xAxis:xAxes, yAxis:yAxes, series:series, graphic:graphic
});
</script>
</body></html>
